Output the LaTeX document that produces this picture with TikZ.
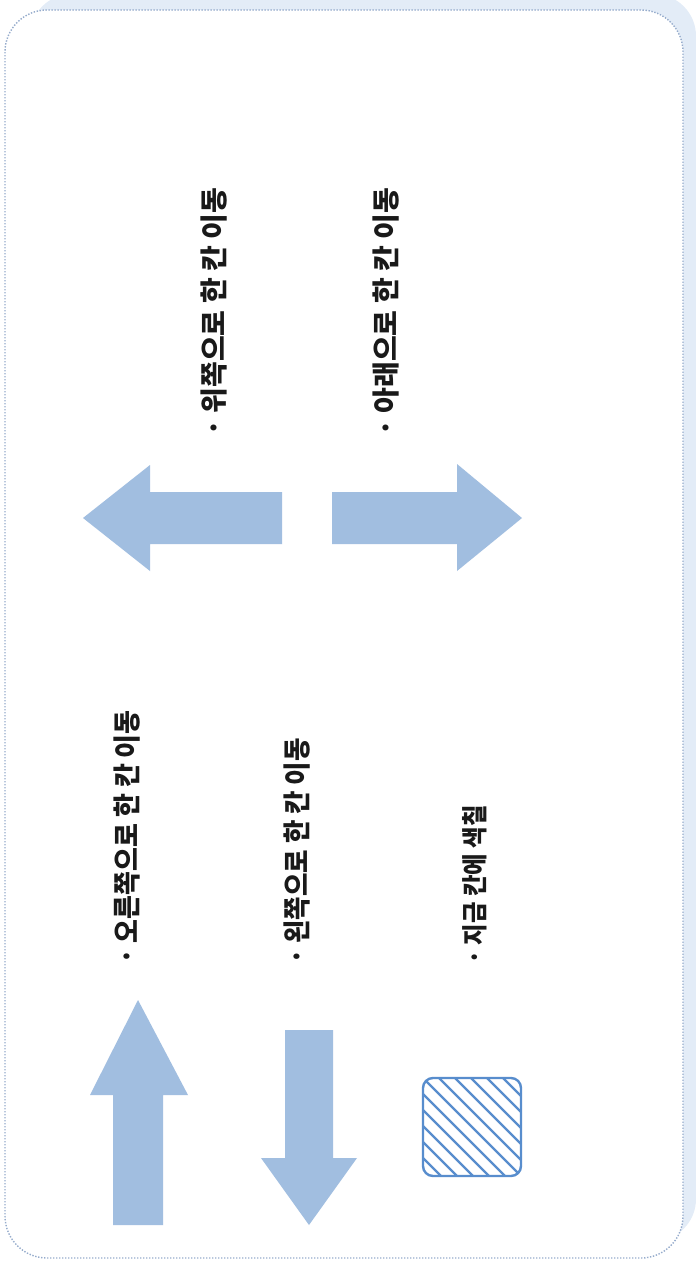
\documentclass[tikz,border=0pt]{standalone}
\usepackage{tikz}
\usepackage{xcolor}
\usepackage{fontspec}
\newfontfamily\krfont{Noto Sans CJK KR}
\definecolor{arrowblue}{RGB}{161,190,224}
\definecolor{shadowblue}{RGB}{227,236,247}
\definecolor{dotblue}{RGB}{150,172,204}
\definecolor{hatchblue}{RGB}{88,141,205}
\tikzset{
    caption/.style={rotate=90, anchor=west, inner sep=0pt, font=\krfont\bfseries\fontsize{28}{32}\selectfont, text=black!90},
    movearrow/.style={fill=arrowblue},
}

\begin{document}
\begin{tikzpicture}[x=1pt, y=-1pt]
    \useasboundingbox (0, 0) rectangle (696, 1267);
    % card and its shadow
    \fill [shadowblue, rounded corners=42pt] (30, -6) rectangle (696, 1241);
    \draw [dotblue, fill=white, line width=1.4pt, dash pattern=on 1.4pt off 1.6pt,
	rounded corners=42pt] (5, 10) rectangle (683, 1258);

    % up / down
    \fill [movearrow] (282, 492) -- (150, 492) -- (150, 465) -- (83, 518)
	-- (150, 571) -- (150, 544) -- (282, 544) -- cycle;
    \path (214, 437) node [caption] (up) {· 위쪽으로 한 칸 이동};
    \fill [movearrow] (332, 492) -- (457, 492) -- (457, 464) -- (522, 518)
	-- (457, 571) -- (457, 544) -- (332, 544) -- cycle;
    \path (386, 437) node [caption] (down) {· 아래으로 한 칸 이동};

    % right / left
    \fill [movearrow] (113, 1225) -- (113, 1095) -- (90, 1095) -- (138, 1000)
	-- (188, 1095) -- (163, 1095) -- (163, 1225) -- cycle;
    \path (127, 965) node [caption, xscale=0.927] (right) {· 오른쪽으로 한 칸 이동};
    \fill [movearrow] (285, 1030) -- (285, 1158) -- (261, 1158) -- (309, 1225)
	-- (357, 1158) -- (333, 1158) -- (333, 1030) -- cycle;
    \path (297, 965) node [caption, xscale=0.91] (left) {· 왼쪽으로 한 칸 이동};

    % paint
    \begin{scope}
	\clip [rounded corners=10pt] (423, 1078) rectangle (521, 1176);
	\foreach \k in {-112, -96, ..., 112}
	    \draw [hatchblue, line width=2.2pt] (423+\k, 1078) -- ++(98, 98);
    \end{scope}
    \draw [hatchblue, line width=2.4pt, rounded corners=10pt]
	(423, 1078) rectangle (521, 1176);
    \path (475, 965) node [caption, font=\krfont\bfseries\fontsize{26}{30}\selectfont,
	xscale=0.9] (paint) {· 지금 칸에 색칠};
\end{tikzpicture}
\end{document}
